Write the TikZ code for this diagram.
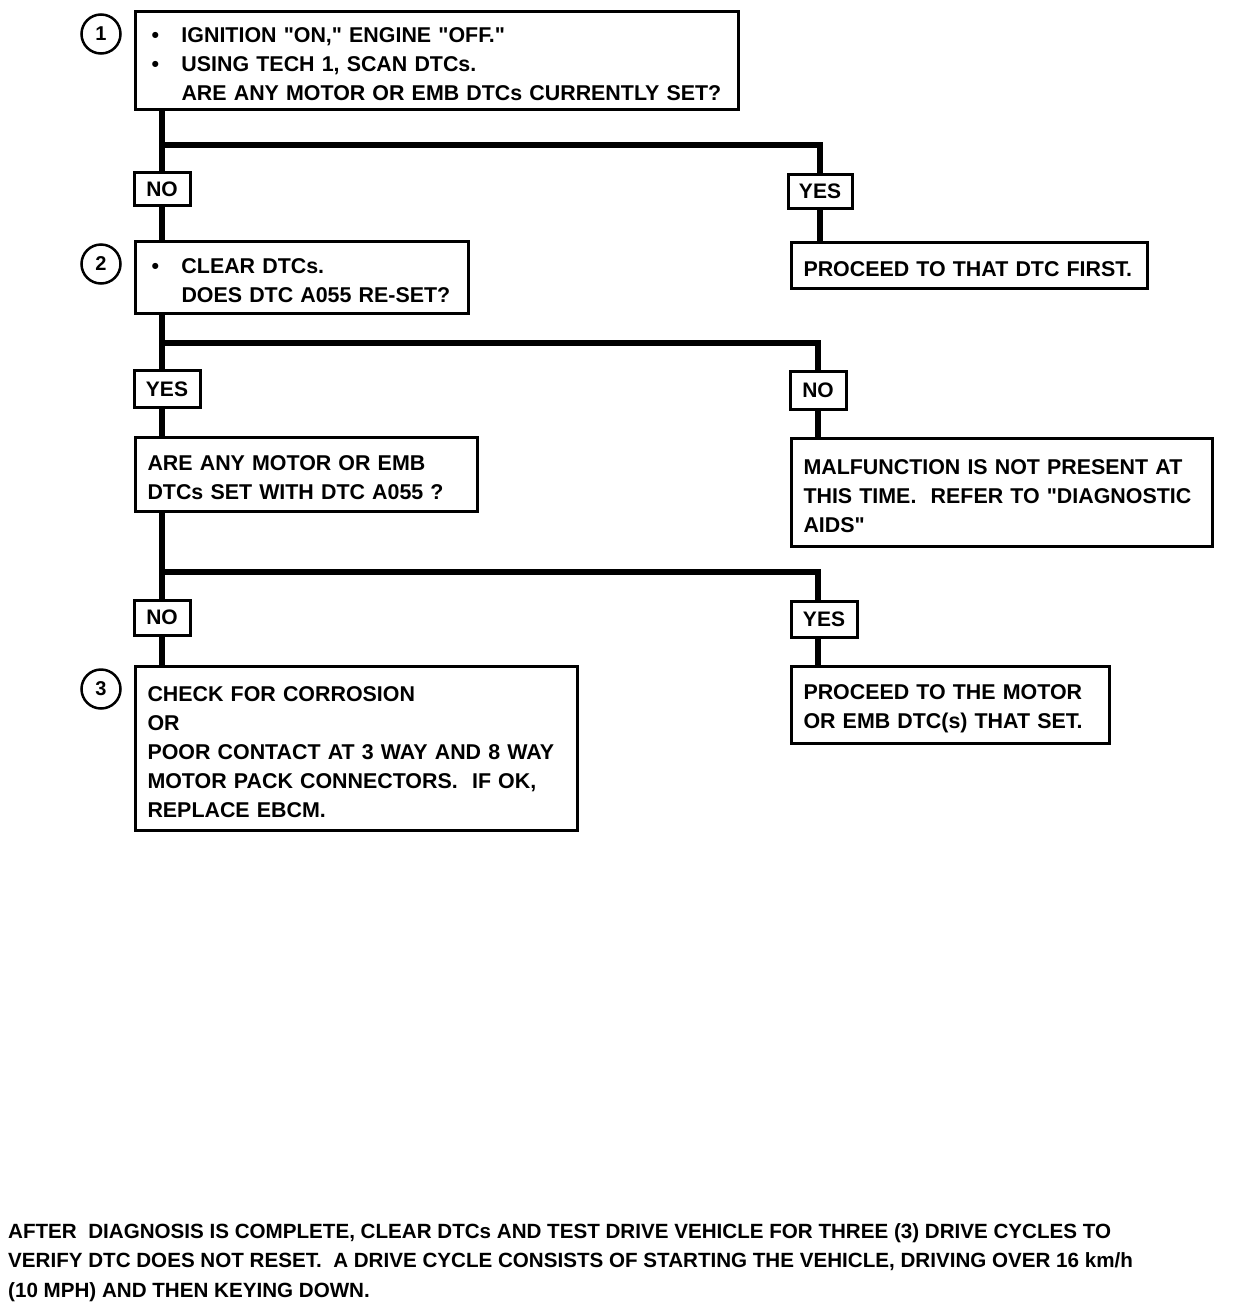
\documentclass[tikz,border=0pt]{standalone}
\usepackage{fontspec}
\setmainfont{Liberation Sans}[Ligatures=TeXOff]
\newcommand{\bul}{\makebox[34pt][l]{\hspace{4pt}\textbullet}}
\newcommand{\ind}{\hspace*{34pt}}
\newcommand{\qq}{\symbol{34}}
\begin{document}
\begin{tikzpicture}[x=1pt,y=-1pt,
  box/.style={draw,line width=3pt,anchor=north west,align=left,inner xsep=12pt,inner ysep=0pt,
    font=\bfseries\fontsize{21.4}{29}\selectfont,execute at begin node={\rule{0pt}{22pt}}},
  lab/.style={draw,line width=3pt,inner sep=0pt,font=\bfseries\fontsize{21}{25}\selectfont},
  conn/.style={line width=6pt},
  num/.style={circle,draw,line width=2.5pt,minimum size=39pt,inner sep=0pt,
    font=\bfseries\fontsize{20}{24}\selectfont}]
\useasboundingbox[fill=white] (0,0) rectangle (1232,1304);

% step boxes
\node[box,text width=579pt,minimum height=98pt] (b1) at (134,10)
  {\bul IGNITION \qq ON,\qq\ ENGINE \qq OFF.\qq\\
   \bul USING TECH 1, SCAN DTCs.\\
   \ind ARE ANY MOTOR OR EMB DTCs CURRENTLY SET?};
\node[num] (c1) at (101,34) {1};

\node[lab,minimum width=56pt,minimum height=33pt] (n1) at (162,189) {NO};
\node[lab,minimum width=64pt,minimum height=34pt] (y1) at (820,191) {YES};

\node[box,text width=309pt,minimum height=72pt] (b2) at (134,240)
  {\bul CLEAR DTCs.\\
   \ind DOES DTC A055 RE-SET?};
\node[num] (c2) at (101,264) {2};

\node[box,text width=332pt,minimum height=46pt] (r1) at (790,241)
  {PROCEED TO THAT DTC FIRST.};

\node[lab,minimum width=66pt,minimum height=37pt] (y2) at (167,389) {YES};
\node[lab,minimum width=56pt,minimum height=38pt] (n2) at (818,390) {NO};

\node[box,text width=318pt,minimum height=74pt] (b3) at (134,436)
  {ARE ANY MOTOR OR EMB\\
   DTCs SET WITH DTC A055 ?};

\node[box,text width=397pt,minimum height=108pt] (r2) at (790,437)
  {MALFUNCTION IS NOT PRESENT AT\\
   THIS TIME.\ \ REFER TO \qq DIAGNOSTIC\\
   AIDS\qq};

\node[lab,minimum width=56pt,minimum height=35pt] (n3) at (162,617.5) {NO};
\node[lab,minimum width=66pt,minimum height=36pt] (y3) at (824,619) {YES};

\node[box,text width=418pt,minimum height=164pt] (b4) at (134,665)
  {CHECK FOR CORROSION\\
   OR\\
   POOR CONTACT AT 3 WAY AND 8 WAY\\
   MOTOR PACK CONNECTORS.\ \ IF OK,\\
   REPLACE EBCM.};
\node[num] (c3) at (101,689) {3};

\node[box,text width=294pt,minimum height=77pt] (r3) at (790,665)
  {PROCEED TO THE MOTOR\\
   OR EMB DTC(s) THAT SET.};

% connectors
\coordinate (j1) at (162,145);
\coordinate (j2) at (162,343);
\coordinate (j3) at (162,572);

\draw[conn] (b1.south -| j1) -- (j1 |- n1.north);
\draw[conn] (j1) -| (y1.north);
\draw[conn] (n1.south) -- (n1.south |- b2.north);
\draw[conn] (y1.south) -- (y1.south |- r1.north);

\draw[conn] (b2.south -| j2) -- (j2 |- y2.north);
\draw[conn] (j2) -| (n2.north);
\draw[conn] (j2 |- y2.south) -- (j2 |- b3.north);
\draw[conn] (n2.south) -- (n2.south |- r2.north);

\draw[conn] (b3.south -| j3) -- (j3 |- n3.north);
\draw[conn] (j3) -| (y3.north -| n2);
\draw[conn] (n3.south) -- (n3.south |- b4.north);
\draw[conn] (y3.south -| n2) -- (n2 |- r3.north);

% footnote
\node[anchor=base west,align=left,inner sep=0pt,font=\bfseries\fontsize{20.6}{29.5}\selectfont] (foot) at (8,1297)
  {AFTER\ \ DIAGNOSIS IS COMPLETE, CLEAR DTCs AND TEST DRIVE VEHICLE FOR THREE (3) DRIVE CYCLES TO\\
   VERIFY DTC DOES NOT RESET.\ \ A DRIVE CYCLE CONSISTS OF STARTING THE VEHICLE, DRIVING OVER 16 km/h\\
   (10 MPH) AND THEN KEYING DOWN.};
\end{tikzpicture}
\end{document}
